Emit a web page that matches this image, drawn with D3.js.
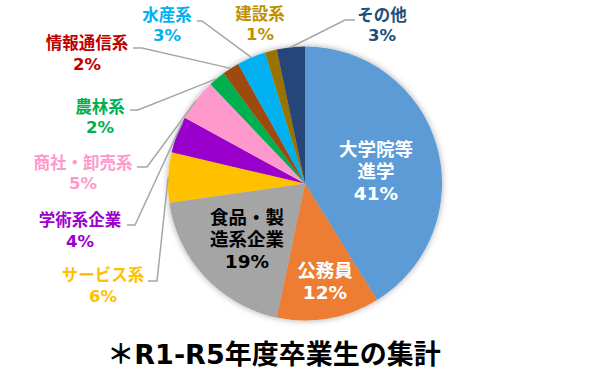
<!DOCTYPE html>
<html><head><meta charset="utf-8">
<script src="https://cdn.jsdelivr.net/npm/d3@7"></script>
<style>
html,body{margin:0;padding:0;background:#fff;}
svg{display:block;}
text{font-family:"DejaVu Sans","Noto Sans CJK JP",sans-serif;font-weight:bold;}
</style></head>
<body>
<script>
// ---- data ----
const categories = ["大学院等進学","公務員","食品・製造系企業","サービス系","学術系企業","商社・卸売系","農林系","情報通信系","水産系","建設系","その他"];
const values = [41.1, 12.1, 19.4, 5.9, 4.3, 4.9, 2.0, 2.0, 3.4, 1.4, 3.3];
const labelLines = [["大学院等","進学"],["公務員"],["食品・製","造系企業"],["サービス系"],["学術系企業"],["商社・卸売系"],["農林系"],["情報通信系"],["水産系"],["建設系"],["その他"]];
const title = "＊R1-R5年度卒業生の集計";

// ---- styles / layout ----
const colors = ["#5B9BD5","#ED7D31","#A5A5A5","#FFC000","#9900CC","#FF99CC","#00B050","#9E480E","#00B0F0","#997300","#264478"];
const textColors = ["#FFFFFF","#FFFFFF","#000000","#FFC000","#9900CC","#FF99CC","#00B050","#C00000","#00B0F0","#BF9000","#1F4E79"];
const W = 611, H = 391, cx = 305, cy = 183.5, R = 137;
// label anchor (x, first line y), font size, line gap, leader [start, elbow], attach fraction in slice
const labelLayout = [
  {x:376, y:149, fs:18.5, gap:22},
  {x:325, y:270, fs:18.5, gap:22},
  {x:247, y:217, fs:18.5, gap:22},
  {x:103, y:275, fs:16.5, gap:21, lead:[[148,281],[157,281]], f:0.5},
  {x:80,  y:220, fs:16.5, gap:21, lead:[[127,225],[135,225]], f:0.88},
  {x:83,  y:163, fs:16.5, gap:20, lead:[[137,167],[147,167]], f:0.5},
  {x:100, y:107, fs:16.5, gap:20, lead:[[130,110],[138,110]], f:0.5},
  {x:87,  y:43,  fs:16.5, gap:21, lead:[[133,48],[142,48]], f:0.5},
  {x:167, y:15,  fs:16.5, gap:20, lead:[[197,21],[202,21]], f:0.5},
  {x:260, y:14,  fs:16.5, gap:20},
  {x:382, y:15,  fs:16.5, gap:20, lead:[[355,20],[345,20]], f:0.5}
];

const total = d3.sum(values);
const svg = d3.select("body").append("svg").attr("width",W).attr("height",H);
const defs = svg.append("defs");
const flt = defs.append("filter").attr("id","sh").attr("x","-20%").attr("y","-20%").attr("width","140%").attr("height","140%");
flt.append("feDropShadow").attr("dx",0).attr("dy",0).attr("stdDeviation",3).attr("flood-color","#000").attr("flood-opacity",0.35);

const pie = d3.pie().value(d=>d).sort(null);
const arcs = pie(values);
const arc = d3.arc().innerRadius(0).outerRadius(R);

const g = svg.append("g").attr("transform",`translate(${cx},${cy})`);
g.append("g").attr("filter","url(#sh)").selectAll("path").data(arcs).join("path")
  .attr("d",arc).attr("fill",(d,i)=>colors[i]);

// leader lines
const lines = svg.append("g");
arcs.forEach((a,i)=>{
  const L = labelLayout[i];
  if(!L.lead) return;
  const ang = a.startAngle + (a.endAngle - a.startAngle)*L.f;
  const px = cx + R*Math.sin(ang), py = cy - R*Math.cos(ang);
  const pts = [...L.lead, [px,py]];
  lines.append("path").attr("d", d3.line()(pts)).attr("fill","none")
    .attr("stroke","#A6A6A6").attr("stroke-width",1.5);
});

// labels
const labels = svg.append("g");
arcs.forEach((a,i)=>{
  const L = labelLayout[i];
  const rows = [...labelLines[i], Math.round(values[i]/total*100)+"%"];
  rows.forEach((r,k)=>{
    labels.append("text").attr("text-anchor","middle").attr("fill",textColors[i])
      .attr("font-size",L.fs).attr("x",L.x).attr("y",L.y + k*L.gap)
      .attr("dominant-baseline","central").text(r);
  });
});

svg.append("text").attr("x",274).attr("y",354).attr("text-anchor","middle")
  .attr("dominant-baseline","central").attr("font-size",27).attr("fill","#000").text(title);
</script>
</body></html>
